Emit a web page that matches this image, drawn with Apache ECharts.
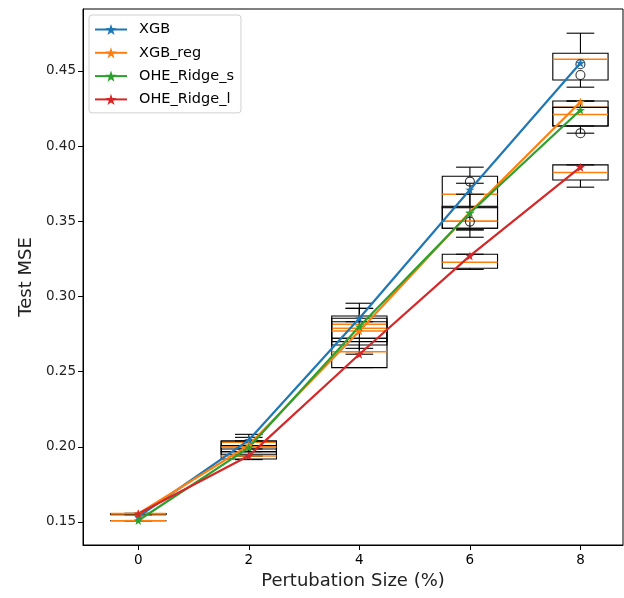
<!DOCTYPE html>
<html>
<head>
<meta charset="utf-8">
<script src="https://cdn.jsdelivr.net/npm/echarts@6/dist/echarts.min.js"></script>
<style>html,body{margin:0;padding:0;background:#fff}#c{width:624px;height:598px}</style>
</head>
<body>
<div id="c"></div>
<script>
// ---- data ----
const positions = [0, 2, 4, 6, 8];
const xTicks = [0, 2, 4, 6, 8];
const yTicks = [0.15, 0.20, 0.25, 0.30, 0.35, 0.40, 0.45];
const seriesNames = ['XGB', 'XGB_reg', 'OHE_Ridge_s', 'OHE_Ridge_l'];

// line (star marker) values
const xgbLine   = [0.1535, 0.2045, 0.2855, 0.3710, 0.4553];
const xgbRegLine = [0.1555, 0.2010, 0.2770, 0.3560, 0.4294];
const ridgeSLine = [0.1510, 0.1995, 0.2800, 0.3555, 0.4240];
const ridgeLLine = [0.1555, 0.1940, 0.2616, 0.3270, 0.3860];

// boxes: [low whisker, Q1, median, Q3, high whisker]
const xgbBox = [
  [0.1548, 0.1549, 0.1550, 0.1551, 0.1552],
  [0.1968, 0.1986, 0.2030, 0.2039, 0.2083],
  [0.2655, 0.2700, 0.2815, 0.2870, 0.2955],
  [0.3443, 0.3590, 0.3680, 0.3800, 0.3860],
  [0.4392, 0.4440, 0.4578, 0.4618, 0.4751]
];
const xgbRegBox = [
  [0.1551, 0.1552, 0.1553, 0.1554, 0.1555],
  [0.1939, 0.1968, 0.1999, 0.2039, 0.2063],
  [0.2616, 0.2677, 0.2788, 0.2855, 0.2921],
  [0.3394, 0.3454, 0.3500, 0.3600, 0.3680],
  [0.4134, 0.4134, 0.4258, 0.4300, 0.4300]
];
const ridgeSBox = [
  [0.1508, 0.1508, 0.1509, 0.1510, 0.1510],
  [0.1939, 0.1951, 0.1999, 0.2008, 0.2039],
  [0.2633, 0.2722, 0.2770, 0.2832, 0.2921],
  [0.3443, 0.3454, 0.3500, 0.3595, 0.3753],
  [0.4086, 0.4134, 0.4210, 0.4258, 0.4300]
];
const ridgeLBox = [
  [0.1554, 0.1555, 0.1556, 0.1557, 0.1558],
  [0.1915, 0.1919, 0.1939, 0.1968, 0.1986],
  [0.2527, 0.2527, 0.2633, 0.2722, 0.2832],
  [0.3180, 0.3188, 0.3227, 0.3281, 0.3281],
  [0.3727, 0.3775, 0.3824, 0.3875, 0.3875]
];

// outliers: [x, value]
const xgbFliers = [[6, 0.3498]];
const xgbRegFliers = [[8, 0.4545], [8, 0.4473]];
const ridgeSFliers = [[6, 0.3764], [8, 0.4086]];
const ridgeLFliers = [];

const colors = ['#1f77b4', '#ff7f0e', '#2ca02c', '#d62728'];
const STAR = 'path://M0,-10 L2.35,-3.24 L9.51,-3.09 L3.8,1.24 L5.88,8.09 L0,4 L-5.88,8.09 L-3.8,1.24 L-9.51,-3.09 L-2.35,-3.24 Z';

function boxData(box) {
  return box.map((b, i) => [positions[i]].concat(b));
}

function renderBox(params, api) {
  const x = api.value(0);
  const lo = api.coord([x, api.value(1)]);
  const q1 = api.coord([x, api.value(2)]);
  const md = api.coord([x, api.value(3)]);
  const q3 = api.coord([x, api.value(4)]);
  const hi = api.coord([x, api.value(5)]);
  const w = api.size([1, 0])[0];
  const half = w / 2, cap = w / 4;
  const cx = q1[0];
  const blk = {stroke: '#000', lineWidth: 1.1, fill: null};
  return {
    type: 'group',
    children: [
      {type: 'line', shape: {x1: cx, y1: q1[1], x2: cx, y2: lo[1]}, style: blk},
      {type: 'line', shape: {x1: cx, y1: q3[1], x2: cx, y2: hi[1]}, style: blk},
      {type: 'line', shape: {x1: cx - cap, y1: lo[1], x2: cx + cap, y2: lo[1]}, style: blk},
      {type: 'line', shape: {x1: cx - cap, y1: hi[1], x2: cx + cap, y2: hi[1]}, style: blk},
      {type: 'rect', shape: {x: cx - half, y: q3[1], width: w, height: q1[1] - q3[1]}, style: {stroke: '#000', lineWidth: 1.1, fill: 'rgba(0,0,0,0)'}},
      {type: 'line', shape: {x1: cx - half, y1: md[1], x2: cx + half, y2: md[1]}, style: {stroke: '#ff7f0e', lineWidth: 1.5}}
    ]
  };
}

const boxes = [xgbBox, xgbRegBox, ridgeSBox, ridgeLBox];
const lines = [xgbLine, xgbRegLine, ridgeSLine, ridgeLLine];
const fliers = [xgbFliers, xgbRegFliers, ridgeSFliers, ridgeLFliers];

const series = [];
boxes.forEach((b, i) => {
  series.push({
    name: seriesNames[i] + ' box', type: 'custom', renderItem: renderBox,
    data: boxData(b), encode: {x: 0, y: [1, 2, 3, 4, 5]}, z: 2, silent: true
  });
  series.push({
    name: seriesNames[i] + ' fliers', type: 'scatter', data: fliers[i],
    symbol: 'circle', symbolSize: 9, z: 3, silent: true,
    itemStyle: {color: 'rgba(0,0,0,0)', borderColor: '#000', borderWidth: 1.1}
  });
});
lines.forEach((l, i) => {
  series.push({
    name: seriesNames[i], type: 'line', data: l.map((v, k) => [positions[k], v]),
    symbol: STAR, symbolSize: 9, showSymbol: true, z: 4,
    lineStyle: {color: colors[i], width: 2.2}, itemStyle: {color: colors[i]}
  });
});

const chart = echarts.init(document.getElementById('c'), null, {renderer: 'canvas'});
chart.setOption({
  animation: false,
  backgroundColor: '#fff',
  textStyle: {fontFamily: 'DejaVu Sans'},
  grid: {left: 83, top: 9, width: 540, height: 536, show: true, borderColor: '#000', borderWidth: 1, containLabel: false},
  legend: {
    data: seriesNames, orient: 'vertical', left: 89, top: 15,
    padding: [7, 7, 6, 5], itemWidth: 32, itemHeight: 14, itemGap: 8.3,
    borderColor: '#d0d0d0', borderWidth: 1, borderRadius: 3, backgroundColor: 'rgba(255,255,255,0.8)',
    textStyle: {fontSize: 14.5, color: '#000', fontFamily: 'DejaVu Sans', padding: [0, 0, 0, 7]}
  },
  xAxis: {
    type: 'value', min: -1, max: 8.77,
    name: 'Pertubation Size (%)', nameLocation: 'middle', nameGap: 27,
    nameTextStyle: {fontSize: 18, color: '#222', fontFamily: 'DejaVu Sans'},
    axisLine: {show: true, onZero: false, lineStyle: {color: '#000', width: 1}},
    axisTick: {show: true, length: 5, customValues: xTicks, lineStyle: {color: '#000'}},
    axisLabel: {customValues: xTicks, fontSize: 13.5, color: '#000', margin: 8},
    splitLine: {show: false}
  },
  yAxis: {
    type: 'value', min: 0.1347, max: 0.4912,
    name: 'Test MSE', nameLocation: 'middle', nameGap: 44, nameRotate: 90,
    nameTextStyle: {fontSize: 18, color: '#222', fontFamily: 'DejaVu Sans'},
    axisLine: {show: true, onZero: false, lineStyle: {color: '#000', width: 1}},
    axisTick: {show: true, length: 5, customValues: yTicks, lineStyle: {color: '#000'}},
    axisLabel: {customValues: yTicks, fontSize: 13.5, color: '#222', margin: 7,
      formatter: v => v.toFixed(2)},
    splitLine: {show: false}
  },
  series: series
});
</script>
</body>
</html>
